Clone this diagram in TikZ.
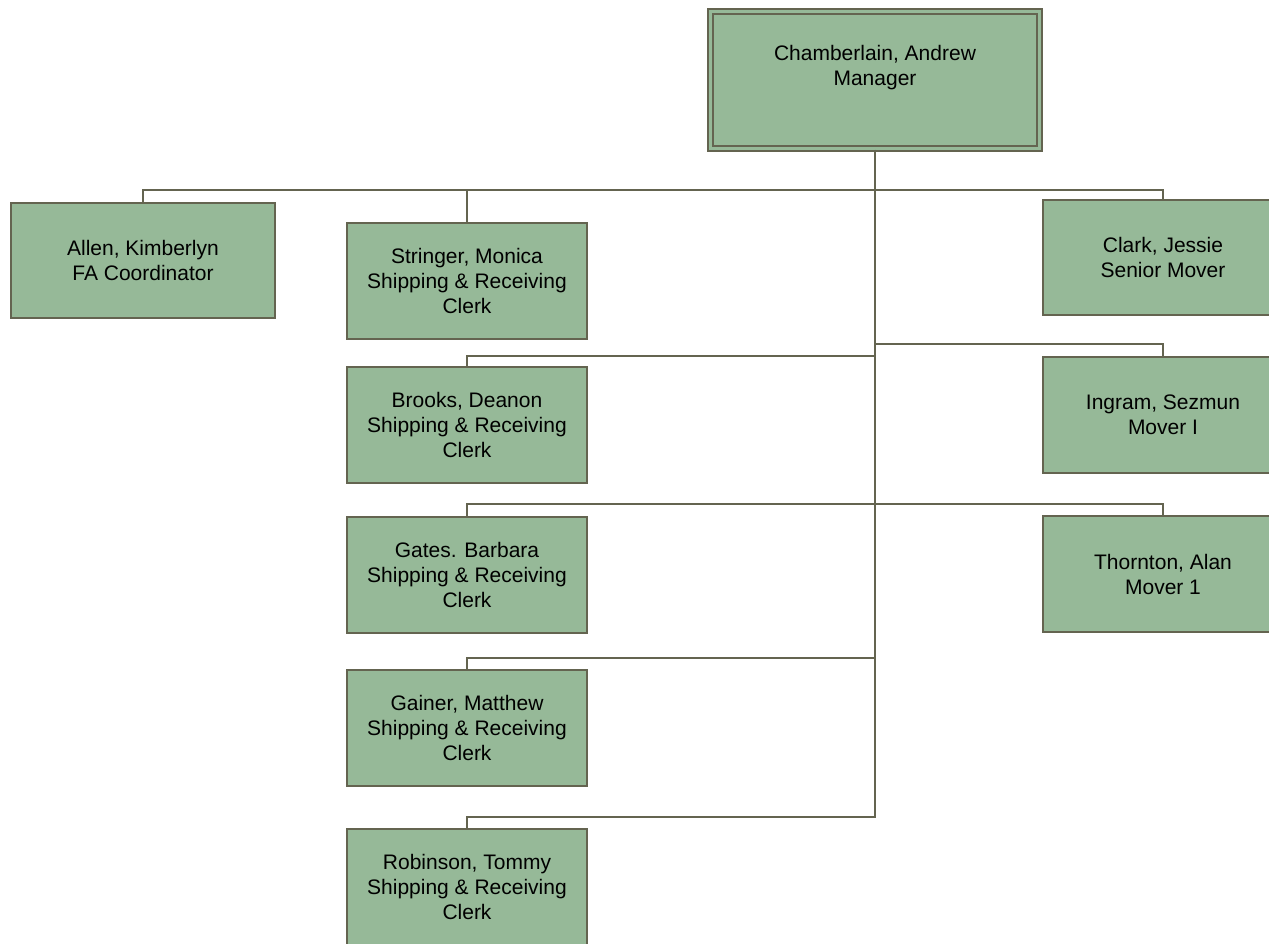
\documentclass[tikz,border=0pt]{standalone}
\usepackage{fontspec}
\setmainfont{Liberation Sans}
\usepackage{xcolor}
\usepackage{tikz}

\definecolor{boxgreen}{RGB}{150,185,152}
\definecolor{lineolive}{RGB}{100,100,80}

\begin{document}
\begin{tikzpicture}[x=1pt, y=-1pt,
		box/.style={rectangle, draw=lineolive, line width=2pt, fill=boxgreen, minimum width=240pt, minimum height=116pt, align=center, inner sep=0pt, font=\fontsize{21}{25}\selectfont},
		link/.style={draw=lineolive, line width=2pt}]
			\clip (0,0) rectangle (1269,943);
			\node (mgr) [box, minimum width=329pt, minimum height=137pt, line width=2pt, double=boxgreen, double distance=3pt, text depth=30pt] at (875,80) {Chamberlain, Andrew\\Manager};
			\node (allen) [box, minimum width=264pt, minimum height=115pt] at (143,260.5) {Allen, Kimberlyn\\FA Coordinator};
			\node (stringer) [box] at (467,281) {Stringer, Monica\\Shipping \& Receiving\\Clerk};
			\node (clark) [box, minimum height=115pt] at (1163,257.5) {Clark, Jessie\\Senior Mover};
			\node (brooks) [box] at (467,425) {Brooks, Deanon\\Shipping \& Receiving\\Clerk};
			\node (ingram) [box] at (1163,415) {Ingram, Sezmun\\Mover I};
			\node (gates) [box] at (467,574.5) {Gates. Barbara\\Shipping \& Receiving\\Clerk};
			\node (thornton) [box] at (1163,574) {Thornton, Alan\\Mover 1};
			\node (gainer) [box] at (467,728) {Gainer, Matthew\\Shipping \& Receiving\\Clerk};
			\node (robinson) [box] at (467,887) {Robinson, Tommy\\Shipping \& Receiving\\Clerk};
			
			% branch points on the trunk
			\coordinate (j0) at (875,190);
			\coordinate (j1) at (875,344);
			\coordinate (j2) at (875,356);
			\coordinate (j3) at (875,504);
			\coordinate (j4) at (875,658);
			\coordinate (j5) at (875,817);
			
			\draw[link] (mgr.south) -- (j5) -| (robinson.north);
			\draw[link] (j0) -| (allen.north);
			\draw[link] (j0) -| (stringer.north);
			\draw[link] (j0) -| (clark.north);
			\draw[link] (j1) -| (ingram.north);
			\draw[link] (j2) -| (brooks.north);
			\draw[link] (j3) -| (gates.north);
			\draw[link] (j3) -| (thornton.north);
			\draw[link] (j4) -| (gainer.north);
		\end{tikzpicture}
\end{document}
